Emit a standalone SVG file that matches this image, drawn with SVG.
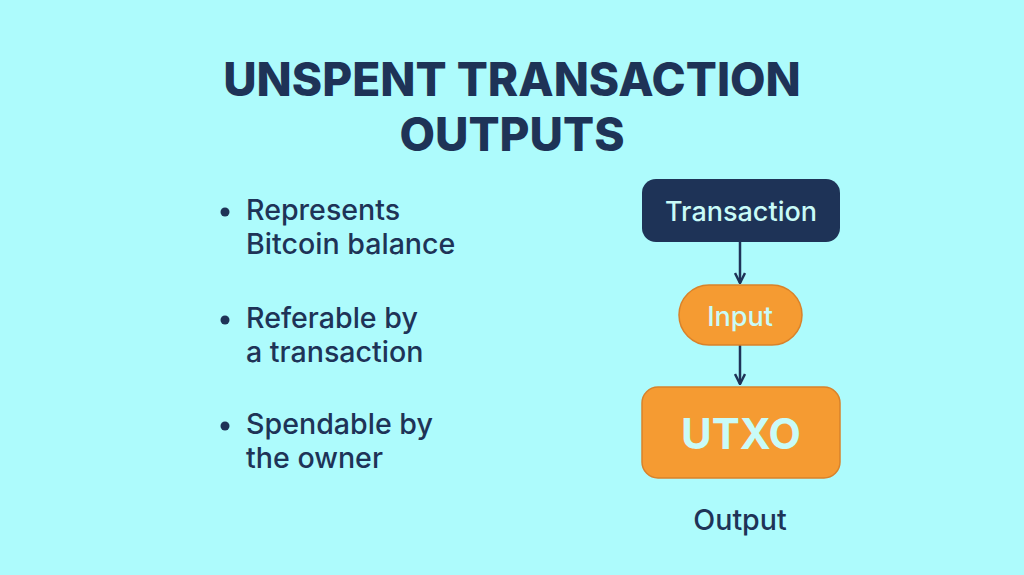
<svg xmlns="http://www.w3.org/2000/svg" width="1024" height="575" viewBox="0 0 1024 575">
<style>
text{font-family:Inter,"Liberation Sans",sans-serif;font-weight:600}
.t{fill:#1e3357;font-size:46px;font-weight:800;text-anchor:middle}
.b{fill:#1e3357;font-size:28.6px;font-weight:500}
.n{fill:#c9fbf8;text-anchor:middle;font-weight:500}
.c{stroke:#1e3357;stroke-width:2.5;fill:none}
</style>
<defs><marker id="a" viewBox="0 0 12 12" refX="11" refY="6" markerWidth="12" markerHeight="12" markerUnits="userSpaceOnUse" orient="auto"><path d="M1 1 L11 6 L1 11" fill="none" stroke="#1e3357" stroke-width="2.5"/></marker></defs>
<rect width="1024" height="575" fill="#adfbfc"/>
<text class="t" x="512" y="96">UNSPENT TRANSACTION</text>
<text class="t" x="512" y="151">OUTPUTS</text>
<g fill="#1e3357"><circle cx="225" cy="212" r="4.5"/><circle cx="225" cy="320" r="4.5"/><circle cx="225" cy="426" r="4.5"/></g>
<text class="b" x="246" y="220">Represents</text>
<text class="b" x="246" y="254">Bitcoin balance</text>
<text class="b" x="246" y="328">Referable by</text>
<text class="b" x="246" y="362">a transaction</text>
<text class="b" x="246" y="434">Spendable by</text>
<text class="b" x="246" y="468">the owner</text>
<g id="connectors">
<line class="c" x1="740" y1="242" x2="740" y2="283" marker-end="url(#a)"/>
<line class="c" x1="740" y1="345" x2="740" y2="384" marker-end="url(#a)"/>
</g>
<g id="transaction"><rect x="642" y="179" width="198" height="63" rx="14" fill="#1e3357"/><text class="n" x="741" y="221" font-size="27">Transaction</text></g>
<g id="input"><rect x="679" y="285" width="123" height="60" rx="30" fill="#f59b32" stroke="#d9822a" stroke-width="1.5"/><text class="n" x="740" y="326" font-size="27">Input</text></g>
<g id="utxo"><rect x="642" y="387" width="198" height="91" rx="16" fill="#f59b32" stroke="#d9822a" stroke-width="1.5"/><text class="n" x="741" y="449" font-size="42" style="font-weight:700">UTXO</text></g>
<text class="b" x="740" y="530" text-anchor="middle">Output</text>
</svg>
